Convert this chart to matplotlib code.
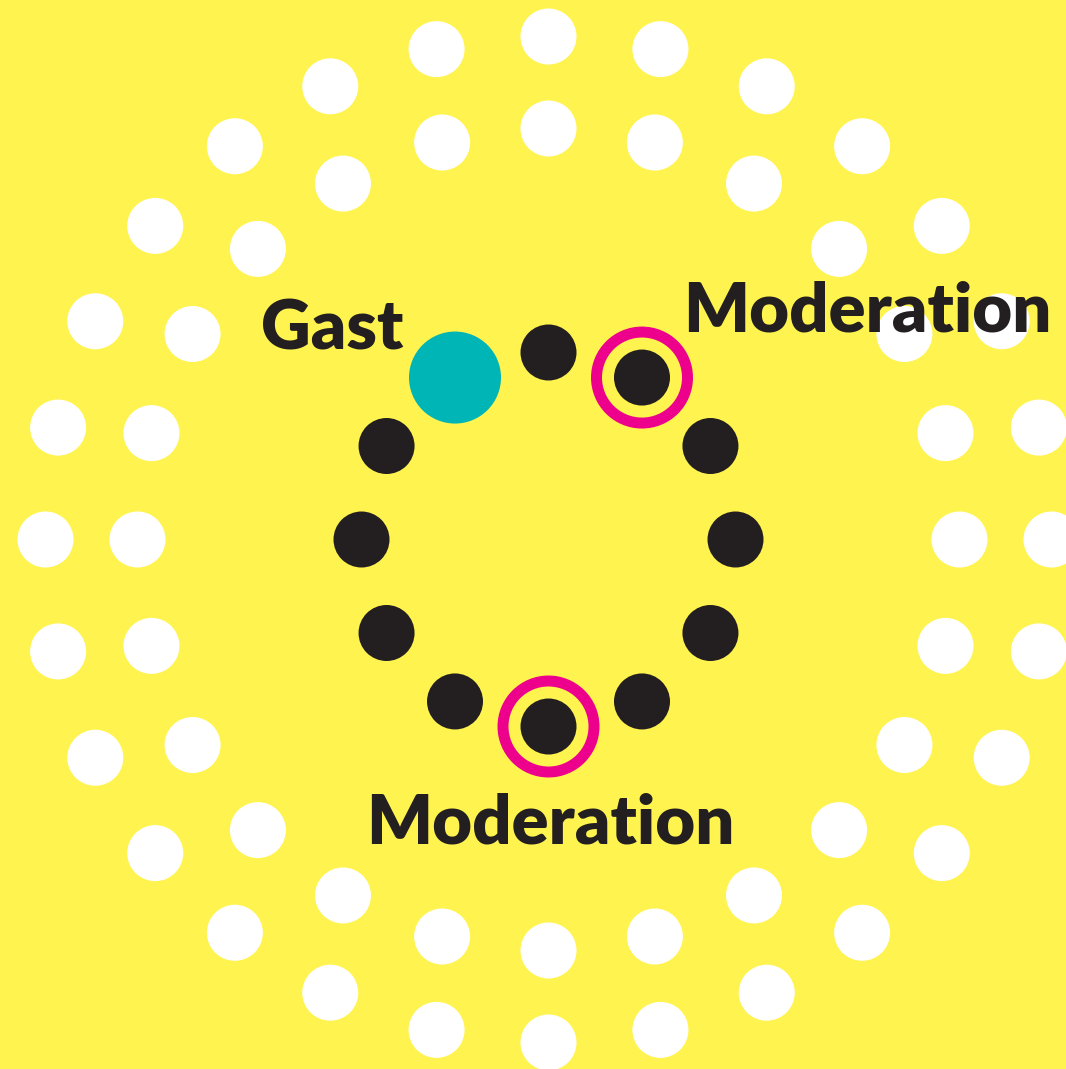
"""Radial dot diagram: white outer rings, inner ring with guest and moderation seats."""
import numpy as np
import matplotlib
matplotlib.use("Agg")
import matplotlib.pyplot as plt
from matplotlib.patches import Circle

# ring structure (dot counts per ring)
outer_ring_count = 28
middle_ring_count = 24
# inner ring, clockwise from the top
inner_seats = ["plain", "moderation", "plain", "plain", "plain", "plain",
               "moderation", "plain", "plain", "plain", "plain", "gast"]
labels = {"gast": "Gast", "moderation": "Moderation"}

YELLOW = "#FFF350"
WHITE = "#FFFFFF"
DARK = "#231F20"
TEAL = "#00B5B5"
MAGENTA = "#EC008C"

W, H = 1066, 1069
cx, cy = 548.5, 539.5
r_outer, r_middle, r_inner = 503, 411, 187
dot_r, gast_r = 28, 46


def ring_xy(n, radius):
    ang = np.arange(n) * 2 * np.pi / n  # clockwise from top
    return cx + radius * np.sin(ang), cy - radius * np.cos(ang)


fig = plt.figure(figsize=(W / 100, H / 100), dpi=100)
fig.patch.set_facecolor(YELLOW)
ax = fig.add_axes([0, 0, 1, 1])
ax.set_facecolor(YELLOW)
ax.set_xlim(0, W)
ax.set_ylim(H, 0)
ax.set_aspect("equal")
ax.axis("off")

for n, r in [(outer_ring_count, r_outer), (middle_ring_count, r_middle)]:
    xs, ys = ring_xy(n, r)
    for x, y in zip(xs, ys):
        ax.add_patch(Circle((x, y), dot_r, color=WHITE, lw=0, zorder=1))

xs, ys = ring_xy(len(inner_seats), r_inner)
for x, y, kind in zip(xs, ys, inner_seats):
    if kind == "gast":
        ax.add_patch(Circle((x, y), gast_r, color=TEAL, lw=0, zorder=2))
        continue
    ax.add_patch(Circle((x, y), dot_r, color=DARK, lw=0, zorder=2))
    if kind == "moderation":
        ax.add_patch(Circle((x, y), 45.5, fill=False, ec=MAGENTA, lw=7.9,
                            zorder=2))

font = dict(family=["Lato", "DejaVu Sans"], fontweight="heavy", color=DARK,
            fontsize=49.5, ha="center", va="baseline", zorder=5)
ax.text(332, 350, labels["gast"], **font)
ax.text(867, 332, labels["moderation"], **font)
ax.text(550, 843, labels["moderation"], **font)

fig.savefig("out.png", dpi=100, facecolor=YELLOW)
plt.close(fig)
